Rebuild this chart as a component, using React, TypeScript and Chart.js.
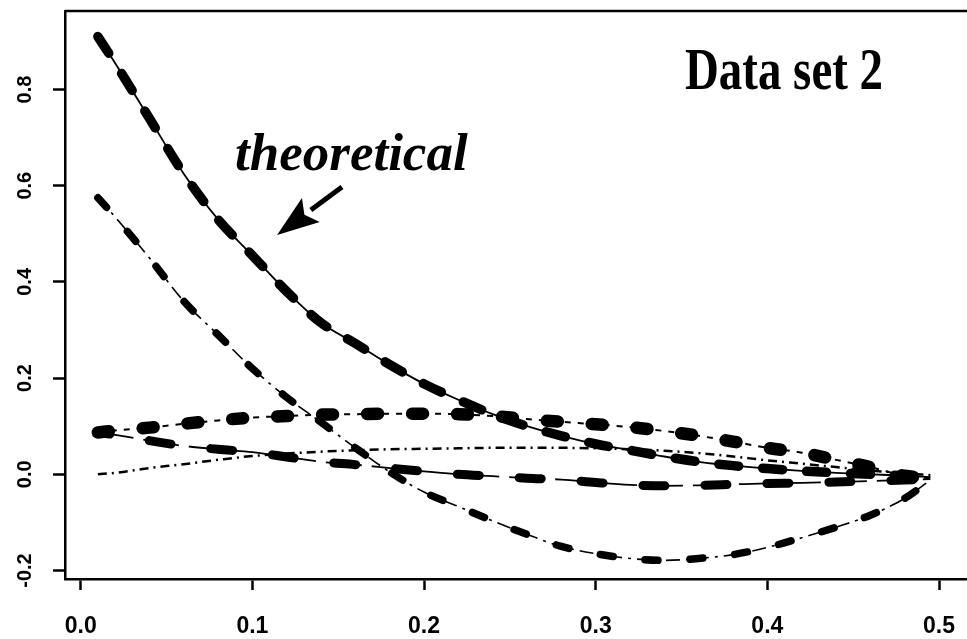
import { useEffect, useRef } from 'react';
import { Chart, registerables } from 'chart.js';

Chart.register(...registerables);

// ---- data ----
const xValues = [0.01, 0.02, 0.04, 0.06, 0.08, 0.10, 0.12, 0.14, 0.16, 0.18, 0.20, 0.22, 0.24, 0.26, 0.28, 0.30, 0.32, 0.34, 0.36, 0.38, 0.40, 0.42, 0.44, 0.46, 0.48, 0.495];
const theoretical = [0.91, 0.855, 0.74, 0.625, 0.53, 0.455, 0.38, 0.315, 0.272, 0.228, 0.188, 0.155, 0.125, 0.1, 0.08, 0.063, 0.05, 0.037, 0.026, 0.018, 0.012, 0.007, 0.003, 0.0, -0.003, -0.006];
const estimateA = [0.575, 0.535, 0.45, 0.36, 0.29, 0.22, 0.16, 0.108, 0.055, 0.005, -0.037, -0.067, -0.097, -0.125, -0.15, -0.165, -0.175, -0.179, -0.175, -0.167, -0.152, -0.132, -0.11, -0.085, -0.05, -0.012];
const estimateB = [0.087, 0.091, 0.097, 0.105, 0.112, 0.118, 0.121, 0.124, 0.125, 0.126, 0.126, 0.125, 0.121, 0.115, 0.109, 0.104, 0.098, 0.09, 0.08, 0.068, 0.055, 0.045, 0.03, 0.015, -0.003, -0.008];
const estimateC = [0.087, 0.082, 0.07, 0.059, 0.052, 0.046, 0.036, 0.026, 0.02, 0.013, 0.006, 0.0, -0.004, -0.008, -0.011, -0.017, -0.022, -0.024, -0.023, -0.021, -0.019, -0.018, -0.016, -0.014, -0.012, -0.01];
const estimateD = [0.0, 0.003, 0.013, 0.021, 0.03, 0.038, 0.043, 0.047, 0.05, 0.052, 0.053, 0.054, 0.055, 0.055, 0.055, 0.054, 0.052, 0.049, 0.044, 0.037, 0.029, 0.022, 0.015, 0.008, 0.002, -0.002];

const xTicks = [0, 0.1, 0.2, 0.3, 0.4, 0.5];
const yTicks = [-0.2, 0, 0.2, 0.4, 0.6, 0.8];

const titleText = 'Data set 2';
const annotationText = 'theoretical';

// annotation anchors in data units
const annotationAnchor = { x: 0.0899, y: 0.6326 };
const titleAnchor = { x: 0.352, y: 0.801 };
const arrowTail = { x: 0.1522, y: 0.5973 };
const arrowTip = { x: 0.1144, y: 0.4975 };

const toPoints = (ys: number[]) => ys.map((y, i) => ({ x: xValues[i], y }));

const thin = (ys: number[], dash: number[], width: number) => ({
  data: toPoints(ys),
  borderColor: '#000',
  borderWidth: width,
  borderDash: dash,
  pointRadius: 0,
  cubicInterpolationMode: 'monotone' as const,
  fill: false,
});

const blobs = (ys: number[], dash: number[], width: number, offset = 0) => ({
  data: toPoints(ys),
  borderColor: '#000',
  borderWidth: width,
  borderDash: dash,
  borderDashOffset: offset,
  borderCapStyle: 'round' as const,
  pointRadius: 0,
  cubicInterpolationMode: 'monotone' as const,
  fill: false,
});

const annotationPlugin = {
  id: 'annotations',
  afterDraw(chart: any) {
    const { ctx, chartArea, scales } = chart;
    const x = scales.x;
    const y = scales.y;
    ctx.save();
    // top frame line
    ctx.strokeStyle = '#000';
    ctx.lineWidth = 2.5;
    ctx.beginPath();
    ctx.moveTo(chartArea.left, chartArea.top);
    ctx.lineTo(chartArea.right, chartArea.top);
    ctx.stroke();

    ctx.fillStyle = '#000';
    ctx.textBaseline = 'alphabetic';
    ctx.textAlign = 'left';
    // "theoretical"
    ctx.font = 'italic bold 53px "Liberation Serif", "DejaVu Serif", serif';
    ctx.fillText(annotationText, x.getPixelForValue(annotationAnchor.x), y.getPixelForValue(annotationAnchor.y));

    // "Data set 2" (taller, as in the scan)
    ctx.save();
    ctx.translate(x.getPixelForValue(titleAnchor.x), y.getPixelForValue(titleAnchor.y));
    ctx.scale(1.02, 1.28);
    ctx.font = 'bold 46px "Liberation Serif", "DejaVu Serif", serif';
    ctx.fillText(titleText, 0, 0);
    ctx.restore();

    // arrow
    const tx = x.getPixelForValue(arrowTail.x);
    const ty = y.getPixelForValue(arrowTail.y);
    const hx = x.getPixelForValue(arrowTip.x);
    const hy = y.getPixelForValue(arrowTip.y);
    const ang = Math.atan2(hy - ty, hx - tx);
    const headLen = 42;
    const headHalf = 15;
    const bx = hx - headLen * Math.cos(ang);
    const by = hy - headLen * Math.sin(ang);
    ctx.lineWidth = 5;
    ctx.lineCap = 'butt';
    ctx.beginPath();
    ctx.moveTo(tx, ty);
    ctx.lineTo(bx, by);
    ctx.stroke();
    ctx.beginPath();
    ctx.moveTo(hx, hy);
    ctx.lineTo(bx + headHalf * Math.sin(ang), by - headHalf * Math.cos(ang));
    ctx.lineTo(bx + 8 * Math.cos(ang), by + 8 * Math.sin(ang));
    ctx.lineTo(bx - headHalf * Math.sin(ang), by + headHalf * Math.cos(ang));
    ctx.closePath();
    ctx.fill();
    ctx.restore();
  },
};

export default function App() {
  const canvasRef = useRef<HTMLCanvasElement | null>(null);

  useEffect(() => {
    const canvas = canvasRef.current;
    if (!canvas) return;
    const chart = new Chart(canvas, {
      type: 'line',
      data: {
        datasets: [
          thin(theoretical, [], 1.8),
          blobs(theoretical, [20, 24], 9.5),
          thin(estimateA, [14, 6, 3, 6], 1.6),
          blobs(estimateA, [13, 32], 7.5),
          thin(estimateB, [6, 7], 2),
          blobs(estimateB, [11, 34], 12.5),
          thin(estimateC, [36, 10], 1.8),
          blobs(estimateC, [22, 40], 9, 10),
          thin(estimateD, [9, 5, 2, 5], 2.5),
        ] as any,
      },
      options: {
        animation: false,
        responsive: false,
        events: [],
        layout: { padding: { top: 11, right: 0, left: 0, bottom: 0 } },
        plugins: { legend: { display: false }, tooltip: { enabled: false } },
        scales: {
          x: {
            type: 'linear',
            min: -0.00915,
            max: 0.5163,
            afterBuildTicks: (s: any) => {
              s.ticks = xTicks.map((value) => ({ value }));
            },
            afterFit: (s: any) => {
              s.height = 60;
              s.paddingLeft = 0;
              s.paddingRight = 0;
            },
            grid: { drawOnChartArea: false, drawTicks: true, tickLength: 11, tickColor: '#000', tickWidth: 2.5 },
            border: { display: true, color: '#000', width: 2.5 },
            ticks: {
              color: '#000',
              padding: 23,
              maxRotation: 0,
              autoSkip: false,
              font: { family: '"Liberation Sans", Arial, sans-serif', weight: 'bold', size: 23 },
              callback: (v: any) => Number(v).toFixed(1),
            },
          },
          y: {
            type: 'linear',
            min: -0.2177,
            max: 0.9632,
            afterBuildTicks: (s: any) => {
              s.ticks = yTicks.map((value) => ({ value }));
            },
            afterFit: (s: any) => {
              s.width = 65;
              s.paddingTop = 0;
              s.paddingBottom = 0;
            },
            grid: { drawOnChartArea: false, drawTicks: true, tickLength: 12, tickColor: '#000', tickWidth: 2.5 },
            border: { display: true, color: '#000', width: 2.5 },
            ticks: {
              color: '#000',
              padding: 10,
              minRotation: 90,
              maxRotation: 90,
              crossAlign: 'center',
              autoSkip: false,
              font: { family: '"Liberation Sans", Arial, sans-serif', weight: 'bold', size: 20 },
              callback: (v: any) => Number(v).toFixed(1),
            },
          },
        },
      } as any,
      plugins: [annotationPlugin],
    });
    return () => chart.destroy();
  }, []);

  return (
    <div style={{ position: 'fixed', left: 0, top: 0, width: 967, height: 639, background: '#fff' }}>
      <canvas ref={canvasRef} width={967} height={639} style={{ display: 'block' }} />
    </div>
  );
}
